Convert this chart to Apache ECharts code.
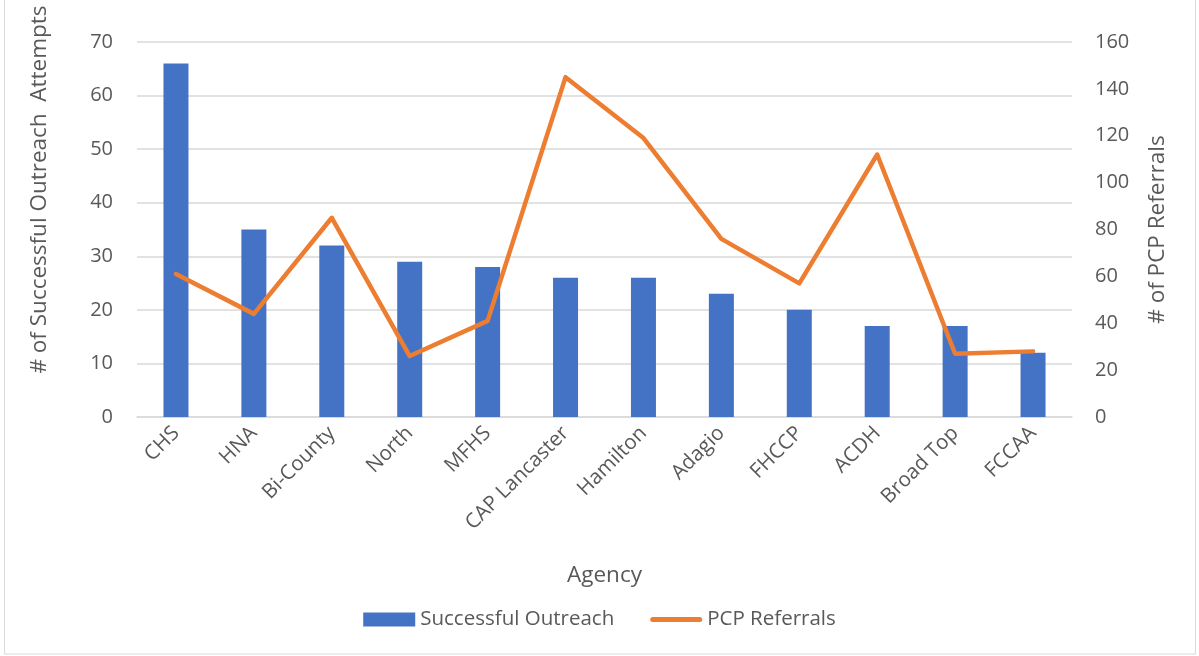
<!DOCTYPE html>
<html>
<head>
<meta charset="utf-8">
<script src="https://cdn.jsdelivr.net/npm/echarts@6/dist/echarts.min.js"></script>
<style>
html,body{margin:0;padding:0;background:#fff;}
#chart{width:1199px;height:656px;}
</style>
</head>
<body>
<div id="chart"></div>
<script>
const categories = ['CHS','HNA','Bi-County','North','MFHS','CAP Lancaster','Hamilton','Adagio','FHCCP','ACDH','Broad Top','FCCAA'];
const outreach = [66,35,32,29,28,26,26,23,20,17,17,12];
const referrals = [61,44,85,26,41,145,119,76,57,112,27,28];
const leftTicks = {min:0,max:70,interval:10};
const rightTicks = {min:0,max:160,interval:20};

const FONT = '"Open Sans", "Noto Sans", sans-serif';
const TXT = '#595959';
const chart = echarts.init(document.getElementById('chart'));
chart.setOption({
  backgroundColor:'#fff',
  animation:false,
  textStyle:{fontFamily:FONT},
  graphic:[{type:'rect',shape:{x:4.5,y:-2,width:1191,height:656},style:{fill:'none',stroke:'#d9d9d9',lineWidth:1}}],
  grid:{left:137,right:127,top:42,bottom:239},
  legend:{
    top:604,left:'center',itemGap:36,itemWidth:52,itemHeight:14,
    textStyle:{fontSize:20.5,color:TXT,fontFamily:FONT},
    data:[
      {name:'Successful Outreach',icon:'rect'},
      {name:'PCP Referrals',icon:'path://M2.5,0 L49.5,0 A2.5,2.5 0 0 1 49.5,5 L2.5,5 A2.5,2.5 0 0 1 2.5,0 Z'}
    ]
  },
  xAxis:{
    type:'category',data:categories,
    axisLine:{lineStyle:{color:'#d9d9d9',width:1.5}},
    axisTick:{show:false},
    axisLabel:{rotate:45,fontSize:20.5,color:TXT,margin:13,fontFamily:FONT,interval:0},
    name:'Agency',nameLocation:'middle',nameGap:147,
    nameTextStyle:{fontSize:22.5,color:TXT,fontFamily:FONT}
  },
  yAxis:[{
    type:'value',min:leftTicks.min,max:leftTicks.max,interval:leftTicks.interval,
    axisLine:{show:false},axisTick:{show:false},
    splitLine:{lineStyle:{color:'#d9d9d9',width:1.5}},
    axisLabel:{fontSize:20,color:TXT,margin:24,fontFamily:FONT},
    name:'# of Successful Outreach  Attempts',nameLocation:'middle',nameGap:86,nameRotate:90,
    nameTextStyle:{fontSize:22.5,color:TXT,fontFamily:FONT,padding:[0,0,0,80]}
  },{
    type:'value',min:rightTicks.min,max:rightTicks.max,interval:rightTicks.interval,
    axisLine:{show:false},axisTick:{show:false},splitLine:{show:false},
    axisLabel:{fontSize:20,color:TXT,margin:23,fontFamily:FONT},
    name:'# of PCP Referrals',nameLocation:'middle',nameGap:74,nameRotate:90,
    nameTextStyle:{fontSize:22.5,color:TXT,fontFamily:FONT}
  }],
  series:[{
    name:'Successful Outreach',type:'bar',data:outreach,barWidth:25,
    itemStyle:{color:'#4472C4'}
  },{
    name:'PCP Referrals',type:'line',yAxisIndex:1,data:referrals,
    symbol:'none',smooth:false,
    lineStyle:{color:'#ED7D31',width:4.5,cap:'round',join:'round'},
    itemStyle:{color:'#ED7D31'}
  }]
});
</script>
</body>
</html>
